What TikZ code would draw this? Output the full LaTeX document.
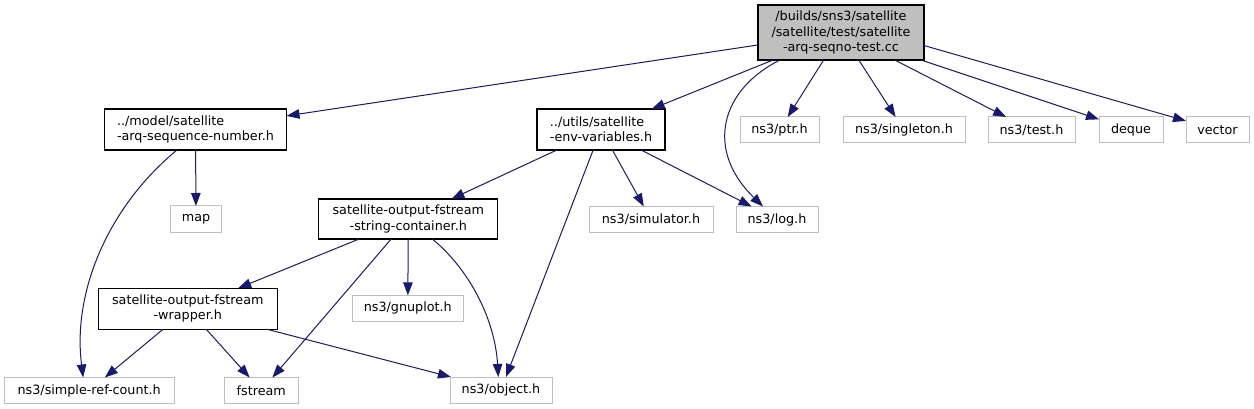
\documentclass[tikz,border=0pt]{standalone}
\usepackage{fontspec}
\setmainfont{DejaVu Sans}
\usetikzlibrary{arrows.meta}
\definecolor{edgeblue}{RGB}{25,25,112}
\definecolor{lgray}{RGB}{191,191,191}
\begin{document}
\begin{tikzpicture}[x=1pt,y=-1pt,
  font=\fontsize{12.75}{15.3}\selectfont,
  every node/.style={inner sep=0pt, outer sep=0pt},
  inc/.style={draw=black, line width=1.1pt, fill=white, minimum height=41pt},
  ext/.style={draw=lgray, line width=1pt, fill=white, minimum height=26pt},
  edge/.style={draw=edgeblue, line width=1pt, -{Triangle[length=13pt,width=9.5pt]}}]
\fill[white] (0,0) rectangle (1254,409);
\useasboundingbox (0,0) rectangle (1254,409);
% nodes
\node[inc, fill=lgray, minimum width=166pt, minimum height=55pt, align=center] (top) at (841,32.5) {/builds/sns3/satellite\\/satellite/test/satellite\\-arq-seqno-test.cc};
\node[inc, minimum width=182pt, align=left] (model) at (195.5,129.5) {../model/satellite\\-arq-sequence-number.h};
\node[inc, minimum width=128pt, align=left] (utils) at (601,129.5) {../utils/satellite\\-env-variables.h};
\node[ext, minimum width=79pt] (ptr) at (779.5,130) {ns3/ptr.h};
\node[ext, minimum width=122pt] (singleton) at (904,130) {ns3/singleton.h};
\node[ext, minimum width=87pt] (test) at (1031.5,130) {ns3/test.h};
\node[ext, minimum width=64pt] (deque) at (1131,130) {deque};
\node[ext, minimum width=63pt] (vector) at (1217.5,130) {vector};
\node[ext, minimum width=51pt] (map) at (196,219) {map};
\node[inc, minimum width=179pt, minimum height=40pt, align=center] (container) at (408.3,219) {satellite-output-fstream\\-string-container.h};
\node[ext, minimum width=124pt] (simulator) at (651,219.5) {ns3/simulator.h};
\node[ext, minimum width=82pt] (log) at (777,219.5) {ns3/log.h};
\node[ext, minimum width=111pt] (gnuplot) at (407.8,308.3) {ns3/gnuplot.h};
\node[inc, minimum width=179pt, align=center] (wrapper) at (187.8,308.7) {satellite-output-fstream\\-wrapper.h};
\node[ext, minimum width=170pt] (src) at (89.2,390.5) {ns3/simple-ref-count.h};
\node[ext, minimum width=74pt] (fstream) at (261.3,390.5) {fstream};
\node[ext, minimum width=102pt] (object) at (501,390) {ns3/object.h};
% edges
\draw[edge] (top) -- (model);
\draw[edge] (top) -- (utils);
\draw[edge] ([xshift=-61pt]top.south) .. controls (720,90) and (705,150) .. ([xshift=-14pt]log.north);
\draw[edge] (top) -- (ptr);
\draw[edge] (top) -- (singleton);
\draw[edge] (top) -- (test);
\draw[edge] ([xshift=-3pt]top.south east) -- (deque);
\draw[edge] ([yshift=-13pt]top.east) -- (vector);
\draw[edge] (model) -- (map);
\draw[edge] ([xshift=-18.5pt]model.south) .. controls (110,205) and (72,290) .. ([xshift=-6pt]src.north);
\draw[edge] (utils) -- (container);
\draw[edge] (utils) -- (object);
\draw[edge] (utils) -- (simulator);
\draw[edge] (utils) -- (log);
\draw[edge] (container) -- (wrapper);
\draw[edge] (container) -- (gnuplot);
\draw[edge] (container) -- (fstream);
\draw[edge] ([xshift=24pt]container.south) .. controls (470,270) and (495,320) .. ([xshift=-2.7pt]object.north);
\draw[edge] (wrapper) -- (src);
\draw[edge] (wrapper) -- (fstream);
\draw[edge] (wrapper) -- (object);
\end{tikzpicture}
\end{document}
